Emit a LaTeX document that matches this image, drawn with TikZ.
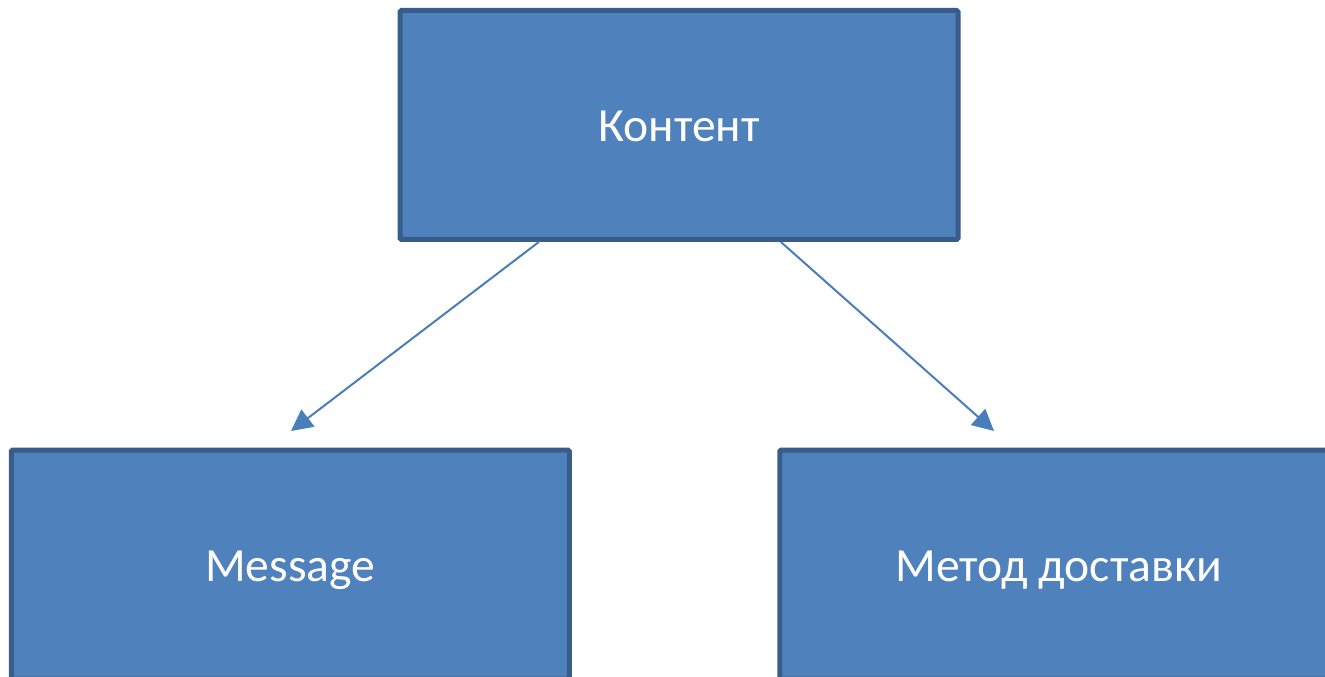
\documentclass[tikz,border=0pt]{standalone}
\usepackage{fontspec}
\setmainfont{Carlito}
\usetikzlibrary{arrows.meta,calc}
\definecolor{boxfill}{HTML}{4F81BD}
\definecolor{boxline}{HTML}{385D8A}
\definecolor{arrowc}{HTML}{4A7EBB}
\tikzset{
  box/.style={draw=boxline, fill=boxfill, line width=3.75pt, rounded corners=1pt, minimum width=418.5pt, minimum height=171.75pt, inner sep=0pt, text height=27pt, text depth=1.5pt, text=white, font=\fontsize{35.7}{42}\selectfont},
  conn/.style={draw=arrowc, line width=1.5pt, -{Triangle[length=16pt,width=16pt]}}
}
\begin{document}
\begin{tikzpicture}[x=0.75pt,y=-0.75pt]
\useasboundingbox (0,0) rectangle (1325,677);
\node[box] (top) at (679,125) {Контент};
\node[box] (msg) at (290.25,564.5) {Message};
\node[box] (meth) at (1058.75,564.5) {Метод доставки};
\coordinate (s1) at ($(top.south west)!0.251!(top.south east)$);
\coordinate (s2) at ($(top.south west)!0.681!(top.south east)$);
\coordinate (e1) at (291,431);
\coordinate (e2) at (994,431);
\draw[conn] (s1) -- (e1);
\draw[conn] (s2) -- (e2);
\end{tikzpicture}
\end{document}
